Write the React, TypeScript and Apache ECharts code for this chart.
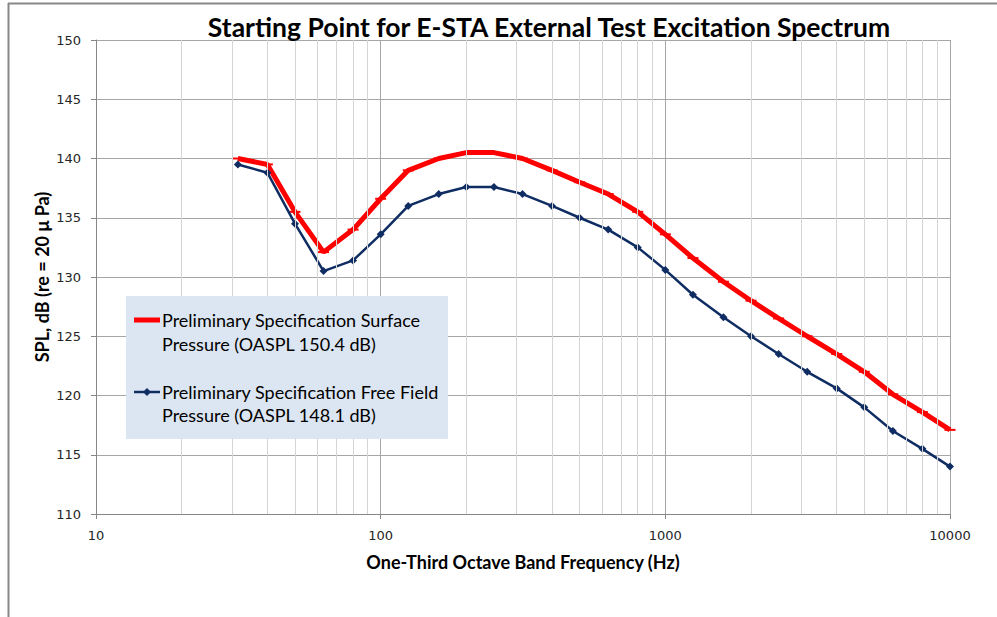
import React, { useEffect, useRef } from "react";
import * as echarts from "echarts";

const freqs = [31.5, 40, 50, 63, 80, 100, 125, 160, 200, 250, 315, 400, 500, 630, 800, 1000, 1250, 1600, 2000, 2500, 3150, 4000, 5000, 6300, 8000, 10000];
const surface = [140, 139.5, 135.5, 132.1, 134, 136.6, 139, 140, 140.5, 140.5, 140, 139, 138, 137, 135.5, 133.6, 131.6, 129.6, 128, 126.5, 125, 123.5, 122, 120.1, 118.6, 117.1];
const freeField = [139.5, 138.8, 134.5, 130.5, 131.4, 133.6, 136, 137, 137.6, 137.6, 137, 136, 135, 134, 132.5, 130.6, 128.5, 126.6, 125, 123.5, 122, 120.6, 119, 117, 115.5, 114];
const minorGrid = [20, 30, 40, 50, 60, 70, 80, 90, 200, 300, 400, 500, 600, 700, 800, 900, 2000, 3000, 4000, 5000, 6000, 7000, 8000, 9000];
const surfaceName = ["Preliminary Specification Surface", "Pressure (OASPL 150.4 dB)"];
const freeName = ["Preliminary Specification Free Field", "Pressure (OASPL 148.1 dB)"];

const FONT = "Lato, 'Open Sans', sans-serif";
const TICK_FONT = "'DejaVu Sans', Verdana, sans-serif";

export default function App() {
  const ref = useRef<HTMLDivElement>(null);
  useEffect(() => {
    if (!ref.current) return;
    const chart = echarts.init(ref.current, null, { renderer: "svg" });
    const Z = 100;
    chart.setOption({
      animation: false,
      backgroundColor: "#ffffff",
      textStyle: { fontFamily: FONT },
      title: {
        text: "Starting Point for E-STA External Test Excitation Spectrum",
        left: 544,
        textAlign: "center",
        top: 8,
        textStyle: { fontFamily: FONT, fontSize: 26.5, fontWeight: "bold", color: "#000" },
      },
      grid: { left: 96, right: 47, top: 40, bottom: 103, containLabel: false },
      xAxis: {
        type: "log",
        logBase: 10,
        min: 10,
        max: 10000,
        name: "One-Third Octave Band Frequency (Hz)",
        nameLocation: "middle",
        nameGap: 39,
        nameMoveOverlap: false,
        nameTextStyle: { fontFamily: FONT, fontSize: 18, fontWeight: "bold", color: "#000", verticalAlign: "top" },
        axisLine: { show: true, onZero: false, lineStyle: { color: "#868686", width: 1 } },
        axisTick: { show: true, length: 5, lineStyle: { color: "#868686" } },
        axisLabel: { fontFamily: TICK_FONT, fontSize: 13, color: "#262626", margin: 15, formatter: (v: number) => String(v) },
        splitLine: { show: true, lineStyle: { color: "#a6a6a6", width: 1 } },
      },
      yAxis: {
        type: "value",
        min: 110,
        max: 150,
        interval: 5,
        name: "SPL, dB (re = 20 μ Pa)",
        nameLocation: "middle",
        nameGap: 54,
        nameMoveOverlap: false,
        nameTextStyle: { fontFamily: FONT, fontSize: 18, fontWeight: "bold", color: "#000", verticalAlign: "middle" },
        axisLine: { show: true, lineStyle: { color: "#868686", width: 1 } },
        axisTick: { show: true, length: 5, lineStyle: { color: "#868686" } },
        axisLabel: { fontFamily: TICK_FONT, fontSize: 13, color: "#262626", margin: 15 },
        splitLine: { show: true, lineStyle: { color: "#a6a6a6", width: 1 } },
      },
      series: [
        {
          type: "line",
          name: "grid",
          data: [],
          silent: true,
          markLine: {
            silent: true,
            symbol: ["none", "none"],
            label: { show: false },
            lineStyle: { color: "#d4d4d4", width: 1, type: "solid" },
            data: minorGrid.map((v) => ({ xAxis: v })),
          },
          z: 1,
        },
        {
          type: "line",
          name: surfaceName.join(" "),
          data: freqs.map((f, i) => [f, surface[i]]),
          lineStyle: { color: "#ff0000", width: 5 },
          itemStyle: { color: "#ff0000" },
          symbol: "rect",
          symbolSize: [11, 2],
          showSymbol: true,
          z: 3,
        },
        {
          type: "line",
          name: freeName.join(" "),
          data: freqs.map((f, i) => [f, freeField[i]]),
          lineStyle: { color: "#0f2d63", width: 2.5 },
          itemStyle: { color: "#0f2d63" },
          symbol: "diamond",
          symbolSize: 8,
          showSymbol: true,
          z: 4,
        },
      ],
      graphic: [
        { type: "line", z: Z, shape: { x1: 8, y1: 3.5, x2: 997, y2: 3.5 }, style: { stroke: "#888", lineWidth: 2 } },
        { type: "line", z: Z, shape: { x1: 8.5, y1: 3, x2: 8.5, y2: 617 }, style: { stroke: "#888", lineWidth: 2 } },
        { type: "rect", z: Z, shape: { x: 126, y: 296, width: 322, height: 143 }, style: { fill: "#dce6f2" } },
        { type: "line", z: Z, shape: { x1: 134, y1: 320, x2: 160, y2: 320 }, style: { stroke: "#ff0000", lineWidth: 5 } },
        { type: "text", z: Z, x: 162, y: 320, style: { text: surfaceName[0], fontFamily: FONT, fontSize: 18, fill: "#000", verticalAlign: "middle" } },
        { type: "text", z: Z, x: 162, y: 344, style: { text: surfaceName[1], fontFamily: FONT, fontSize: 18, fill: "#000", verticalAlign: "middle" } },
        { type: "line", z: Z, shape: { x1: 134, y1: 392, x2: 160, y2: 392 }, style: { stroke: "#0f2d63", lineWidth: 2.5 } },
        { type: "polygon", z: Z, shape: { points: [[147, 388], [151, 392], [147, 396], [143, 392]] }, style: { fill: "#0f2d63" } },
        { type: "text", z: Z, x: 162, y: 392, style: { text: freeName[0], fontFamily: FONT, fontSize: 18, fill: "#000", verticalAlign: "middle" } },
        { type: "text", z: Z, x: 162, y: 415, style: { text: freeName[1], fontFamily: FONT, fontSize: 18, fill: "#000", verticalAlign: "middle" } },
      ],
    });
    return () => chart.dispose();
  }, []);
  return (
    <div
      ref={ref}
      style={{ position: "fixed", left: 0, top: 0, width: 997, height: 617, background: "#fff" }}
    />
  );
}
